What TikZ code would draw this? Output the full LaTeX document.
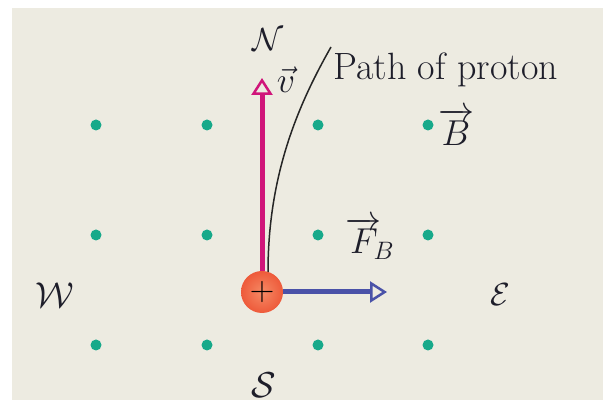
\RequirePackage{fix-cm}
\documentclass[tikz,border=0pt]{standalone}
\usetikzlibrary{arrows.meta}
\definecolor{bg}{HTML}{EDEBE1}
\definecolor{dotc}{HTML}{17A98A}
\definecolor{velc}{HTML}{D0157A}
\definecolor{forc}{HTML}{4A52A8}
\definecolor{protc}{HTML}{EE5A3A}
\definecolor{protin}{HTML}{F58A65}
\definecolor{txtc}{HTML}{1E1E2A}
\begin{document}
\begin{tikzpicture}[x=1pt,y=-1pt,
  fielddot/.style={circle,fill=dotc,inner sep=0pt,minimum size=11pt},
  lbl/.style={inner sep=0pt,text=txtc,font=\fontsize{36}{40}\selectfont},
  vecarrow/.style={line width=5pt,-{Triangle[open,length=17pt,width=21pt,line width=2.5pt]}},
]
\useasboundingbox (0,0) rectangle (603,411);
\fill[white] (0,0) rectangle (603,411);
\fill[bg] (12,8) rectangle (603,400);
% field dots
\foreach \i/\x in {1/96,2/207,3/318,4/428}{
  \foreach \j/\y in {1/125,2/235,3/345}{
    \node[fielddot] (d\i\j) at (\x,\y) {};
  }
}
% proton
\node[circle,minimum size=42pt,inner sep=0pt,inner color=protin,outer color=protc] (p) at (262,292) {};
\node[inner sep=0pt,font=\fontsize{34}{38}\selectfont] (plus) at (262,292) {$+$};
% path
\coordinate (ps) at (268,272);
\coordinate (pe) at (331,47);
\draw[line width=1.5pt,black!85] (ps) .. controls (268,175) and (298,105) .. (pe);
% vectors
\coordinate (vtop) at (262,78);
\coordinate (ftip) at (387,292);
\draw[vecarrow,velc] (p.north) -- (vtop);
\draw[vecarrow,forc] (p.east) -- (ftip);
% labels
\node[lbl,font=\fontsize{32}{36}\selectfont] (N) at (268,40) {$\mathcal{N}$};
\node[lbl] (v) at (286,80) {$\vec{v}$};
\node[lbl,anchor=west,font=\fontsize{38}{42}\selectfont] (path) at (333,70) {Path of proton};
\node[lbl] (B) at (456,127) {$\overrightarrow{B}$};
\node[lbl] (F) at (370,238) {$\overrightarrow{F}_{\!\!B}$};
\node[lbl] (W) at (55,295) {$\mathcal{W}$};
\node[lbl,font=\fontsize{32}{36}\selectfont] (E) at (500,295) {$\mathcal{E}$};
\node[lbl] (S) at (264,385) {$\mathcal{S}$};
\end{tikzpicture}
\end{document}
